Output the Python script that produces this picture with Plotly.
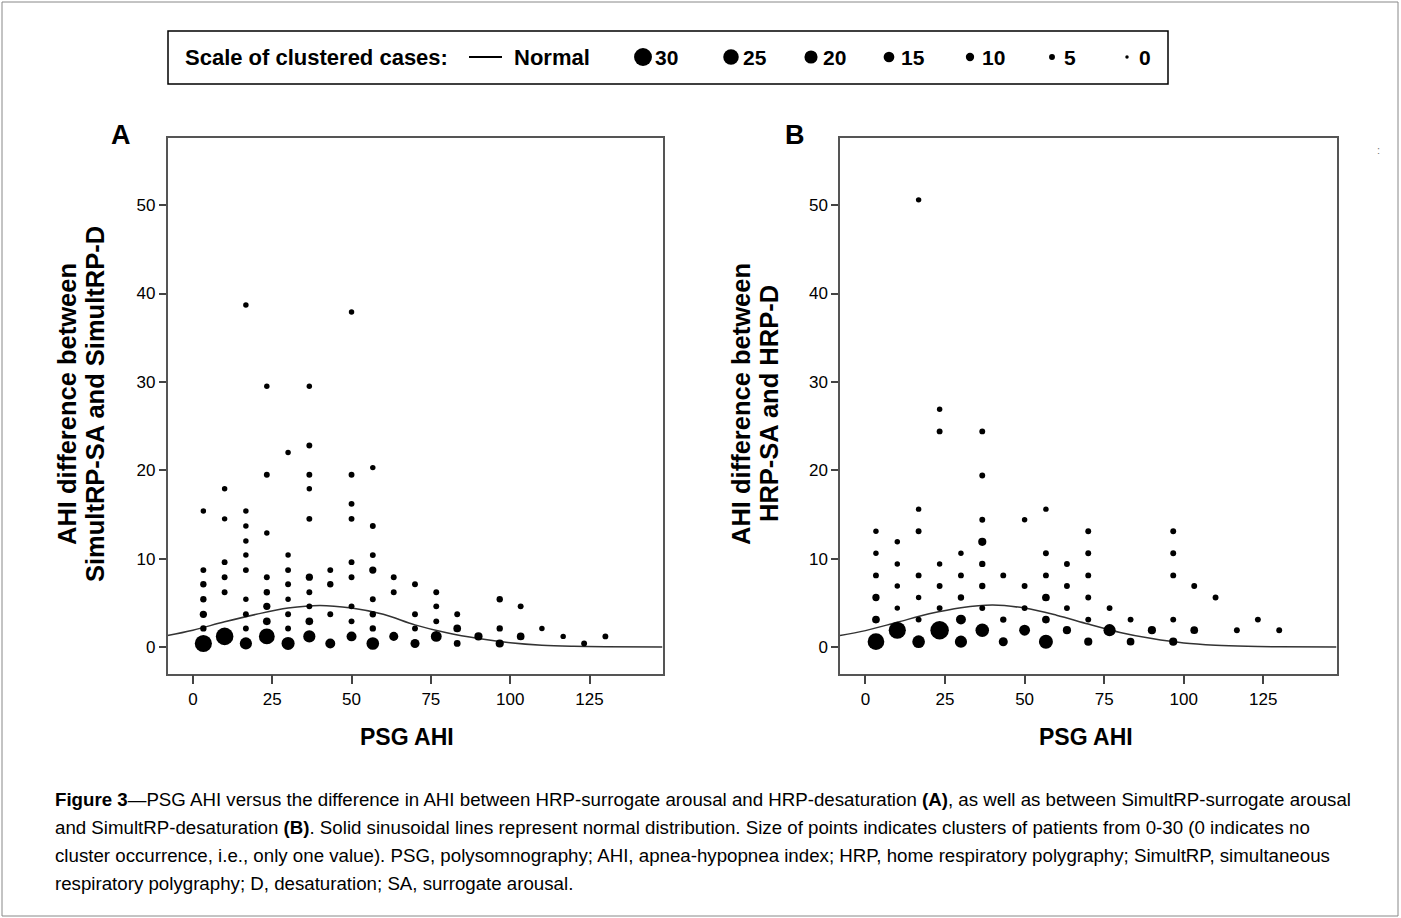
import plotly.graph_objects as go

# ---------------- DATA ----------------
# Panel A: PSG AHI (binned) vs AHI difference SimultRP-SA minus SimultRP-D, cluster size
A_x = [3.3]*7 + [10]*6 + [16.7]*10 + [23.3]*8 + [30]*8 + [36.7]*10 + [43.3]*4 + [50]*9 + \
      [56.7]*8 + [63.3]*3 + [70]*4 + [76.7]*4 + [83.3]*3 + [90] + [96.7]*3 + [103.3]*2 + \
      [110] + [116.7] + [123.3] + [130]
A_y = [15.4, 8.7, 7.1, 5.4, 3.7, 2.1, 0.4,
       17.9, 14.5, 9.6, 7.9, 6.2, 1.2,
       38.7, 15.4, 13.7, 12.0, 10.4, 8.7, 5.4, 3.7, 2.1, 0.4,
       29.5, 19.5, 12.9, 7.9, 6.2, 4.6, 2.9, 1.2,
       22.0, 10.4, 8.7, 7.1, 5.4, 3.7, 2.1, 0.4,
       29.5, 22.8, 19.5, 17.9, 14.5, 7.9, 6.2, 4.6, 2.9, 1.2,
       8.7, 7.1, 3.7, 0.4,
       37.9, 19.5, 16.2, 14.5, 9.6, 7.9, 4.6, 2.9, 1.2,
       20.3, 13.7, 10.4, 8.7, 5.4, 3.7, 2.1, 0.4,
       7.9, 6.2, 1.2,
       7.1, 3.7, 2.1, 0.4,
       6.2, 4.6, 2.9, 1.2,
       3.7, 2.1, 0.4,
       1.2,
       5.4, 2.1, 0.4,
       4.6, 1.2,
       2.1, 1.2, 0.4, 1.2]
A_n = [1, 2, 3, 3, 5, 3, 27,
       1, 1, 2, 2, 2, 28,
       1, 1, 1, 1, 1, 2, 1, 2, 2, 16,
       1, 2, 1, 2, 3, 5, 6, 24,
       1, 1, 2, 2, 1, 2, 2, 18,
       1, 2, 2, 1, 2, 5, 2, 2, 6, 16,
       2, 3, 2, 11,
       1, 2, 2, 2, 2, 2, 2, 2, 11,
       1, 2, 2, 5, 2, 3, 3, 17,
       2, 2, 9,
       2, 2, 2, 9,
       2, 2, 2, 13,
       2, 6, 4,
       7,
       3, 3, 7,
       2, 6,
       1, 1, 2, 2]

# Panel B: PSG AHI (binned) vs AHI difference HRP-SA minus HRP-D, cluster size
B_x = [3.3]*6 + [10]*5 + [16.7]*7 + [23.3]*6 + [30]*5 + [36.7]*8 + [43.3]*3 + [50]*4 + \
      [56.7]*6 + [63.3]*4 + [70]*6 + [76.7]*2 + [83.3]*2 + [90] + [96.7]*5 + [103.3]*2 + \
      [110] + [116.7] + [123.3] + [130]
B_y = [13.1, 10.6, 8.1, 5.6, 3.1, 0.6,
       11.9, 9.4, 6.9, 4.4, 1.9,
       50.6, 15.6, 13.1, 8.1, 5.6, 3.1, 0.6,
       26.9, 24.4, 9.4, 6.9, 4.4, 1.9,
       10.6, 8.1, 5.6, 3.1, 0.6,
       24.4, 19.4, 14.4, 11.9, 9.4, 6.9, 4.4, 1.9,
       8.1, 3.1, 0.6,
       14.4, 6.9, 4.4, 1.9,
       15.6, 10.6, 8.1, 5.6, 3.1, 0.6,
       9.4, 6.9, 4.4, 1.9,
       13.1, 10.6, 8.1, 5.6, 3.1, 0.6,
       4.4, 1.9,
       3.1, 0.6,
       1.9,
       13.1, 10.6, 8.1, 3.1, 0.6,
       6.9, 1.9,
       5.6, 1.9, 3.1, 1.9]
B_n = [1, 1, 2, 5, 6, 26,
       1, 1, 1, 1, 27,
       1, 1, 2, 2, 1, 2, 17,
       1, 2, 1, 2, 2, 30,
       1, 2, 3, 11, 16,
       2, 2, 2, 7, 3, 3, 2, 19,
       2, 3, 9,
       1, 2, 2, 13,
       1, 2, 2, 6, 6, 20,
       2, 2, 2, 7,
       2, 2, 2, 2, 2, 7,
       2, 16,
       2, 6,
       7,
       2, 2, 2, 2, 7,
       2, 6,
       2, 2, 2, 2]

# Normal curves (PSG AHI, fitted normal height)
curve_x = [-8, 0, 10, 20, 30, 40, 50, 60, 70, 80, 90, 100, 110, 120, 130, 148]
curveA_y = [1.3, 1.9, 2.85, 3.7, 4.4, 4.7, 4.4, 3.7, 2.5, 1.6, 0.95, 0.48, 0.2, 0.08, 0.03, 0.0]
curveB_y = [1.3, 1.85, 2.8, 3.75, 4.45, 4.75, 4.4, 3.6, 2.6, 1.65, 0.95, 0.45, 0.2, 0.08, 0.03, 0.0]

# Axis ticks
x_ticks = [0, 25, 50, 75, 100, 125]
y_ticks = [0, 10, 20, 30, 40, 50]

# Legend scale
legend_values = [30, 25, 20, 15, 10, 5, 0]

# Text
ytitleA = ["AHI difference between", "SimultRP-SA and SimultRP-D"]
ytitleB = ["AHI difference between", "HRP-SA and HRP-D"]
xtitle = "PSG AHI"
caption_lines = [
    "<b>Figure 3</b>\u2014PSG AHI versus the difference in AHI between HRP-surrogate arousal and HRP-desaturation <b>(A)</b>, as well as between SimultRP-surrogate arousal",
    "and SimultRP-desaturation <b>(B)</b>. Solid sinusoidal lines represent normal distribution. Size of points indicates clusters of patients from 0-30 (0 indicates no",
    "cluster occurrence, i.e., only one value). PSG, polysomnography; AHI, apnea-hypopnea index; HRP, home respiratory polygraphy; SimultRP, simultaneous",
    "respiratory polygraphy; D, desaturation; SA, surrogate arousal.",
]

# ---------------- STYLE / LAYOUT ----------------
W, H = 1401, 918
FONT = "Liberation Sans Narrow, Arial Narrow, Liberation Sans, Arial, sans-serif"


def px(x):
    return x / W


def py(y):
    return 1 - y / H


def size_of(n):
    return 5 + 0.45 * n


def legend_size(n):
    return 3.5 + 0.48 * n


fig = go.Figure()

for xs, ys, ns, cy, xa, ya in [(A_x, A_y, A_n, curveA_y, "x", "y"),
                               (B_x, B_y, B_n, curveB_y, "x2", "y2")]:
    fig.add_trace(go.Scatter(x=curve_x, y=cy, mode="lines", line=dict(color="#333333", width=1.5, shape="spline"),
                             xaxis=xa, yaxis=ya, showlegend=False, hoverinfo="skip"))
    fig.add_trace(go.Scatter(x=xs, y=ys, mode="markers",
                             marker=dict(color="black", opacity=1, size=[size_of(n) for n in ns], line=dict(width=0)),
                             xaxis=xa, yaxis=ya, showlegend=False))

axis_common = dict(showgrid=False, zeroline=False, showline=True, mirror=True, linecolor="#555555",
                   linewidth=1.5, ticks="outside", tickcolor="#444444", tickwidth=1.5,
                   tickfont=dict(family=FONT, size=17, color="black"))

domA_x = [px(167.5), px(662.5)]
domB_x = [px(840), px(1336.5)]
dom_y = [py(673.5), py(138)]

fig.update_layout(
    width=W, height=H, margin=dict(l=0, r=0, t=0, b=0),
    paper_bgcolor="white", plot_bgcolor="rgba(0,0,0,0)", showlegend=False,
    xaxis=dict(domain=domA_x, range=[-8, 148], tickvals=x_ticks, ticklen=9, anchor="y", **axis_common),
    yaxis=dict(domain=dom_y, range=[-3, 57.6], tickvals=y_ticks, ticklen=7, anchor="x", **axis_common),
    xaxis2=dict(domain=domB_x, range=[-8, 148], tickvals=x_ticks, ticklen=9, anchor="y2", **axis_common),
    yaxis2=dict(domain=dom_y, range=[-3, 57.6], tickvals=y_ticks, ticklen=7, anchor="x2", **axis_common),
    xaxis3=dict(domain=[0, 1], range=[0, W], visible=False, anchor="y3", fixedrange=True),
    yaxis3=dict(domain=[0, 1], range=[H, 0], visible=False, anchor="x3", fixedrange=True),
)

# Legend dots (pixel layout on overlay axis)
legend_dot_x = [643, 731, 811, 889, 970, 1052, 1127]
legend_y = 57
fig.add_trace(go.Scatter(x=legend_dot_x, y=[legend_y]*len(legend_values), mode="markers",
                         marker=dict(color="black", opacity=1, size=[legend_size(v) for v in legend_values],
                                     line=dict(width=0)),
                         xaxis="x3", yaxis="y3", showlegend=False, hoverinfo="skip"))

shapes = [
    dict(type="rect", xref="paper", yref="paper", x0=px(2), x1=px(1398), y0=py(916), y1=py(2),
         line=dict(color="#888888", width=1)),
    dict(type="rect", xref="paper", yref="paper", x0=px(168), x1=px(1168), y0=py(84), y1=py(31),
         line=dict(color="black", width=1.5)),
    dict(type="line", xref="paper", yref="paper", x0=px(469), x1=px(502), y0=py(legend_y), y1=py(legend_y),
         line=dict(color="black", width=2)),
]
fig.update_layout(shapes=shapes)

ann = []


def text(x, y, s, size, bold=False, xanchor="center", angle=0, color="black", yanchor="middle"):
    ann.append(dict(xref="paper", yref="paper", x=px(x), y=py(y), text=(f"<b>{s}</b>" if bold else s),
                    showarrow=False, xanchor=xanchor, yanchor=yanchor, textangle=angle,
                    font=dict(family=FONT, size=size, color=color)))


# legend texts
text(183, legend_y, "Scale of clustered cases:", 22, bold=True, xanchor="left")
text(512, legend_y, "Normal", 22, bold=True, xanchor="left")
for v, xx in zip(legend_values, legend_dot_x):
    text(xx + 10, legend_y, str(v), 21, bold=True, xanchor="left")

# panel labels
text(121, 135, "A", 27, bold=True)
text(795, 135, "B", 27, bold=True)

# axis titles
text(407, 737, xtitle, 23, bold=True)
text(1086, 737, xtitle, 23, bold=True)
text(67, 404, ytitleA[0], 25.5, bold=True, angle=-90)
text(95, 404, ytitleA[1], 25.5, bold=True, angle=-90)
text(741, 404, ytitleB[0], 25.5, bold=True, angle=-90)
text(769, 404, ytitleB[1], 25.5, bold=True, angle=-90)

# caption
for i, line in enumerate(caption_lines):
    text(53, 799 + 28 * i, line, 18.7, xanchor="left")

# small artifact mark at right of panel B
text(1378, 150, ":", 11, color="#777777")

fig.update_layout(annotations=ann)

fig.write_html("out.html")
